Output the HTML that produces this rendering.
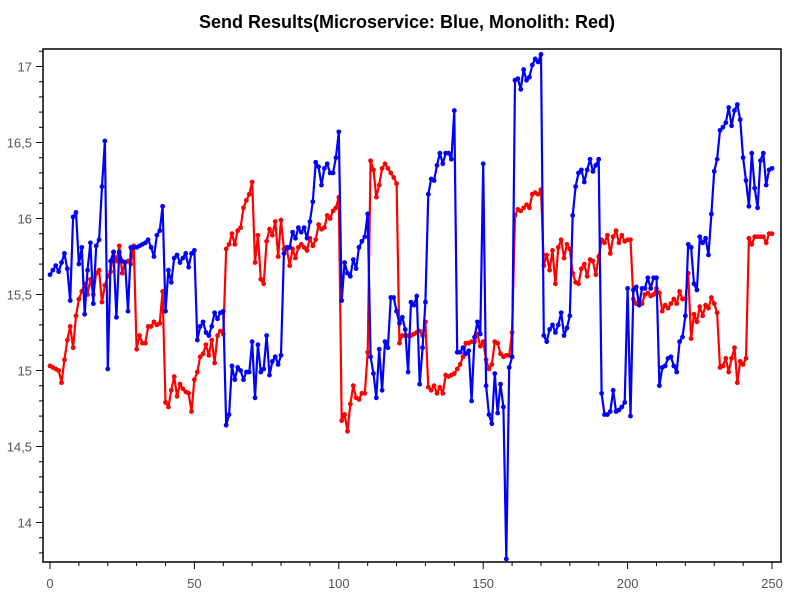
<!DOCTYPE html>
<html>
<head>
<meta charset="utf-8">
<style>
  html, body { margin: 0; padding: 0; background: #fff; }
  body { width: 800px; height: 600px; overflow: hidden; font-family: "Liberation Sans", "DejaVu Sans", sans-serif; }
  svg text { font-family: "Liberation Sans", "DejaVu Sans", sans-serif; }
</style>
</head>
<body>
<svg id="chart" width="800" height="600" viewBox="0 0 800 600" xmlns="http://www.w3.org/2000/svg">
  <text x="407" y="28" text-anchor="middle" font-size="18" font-weight="bold" fill="#000">Send Results(Microservice: Blue, Monolith: Red)</text>
  <rect x="43" y="49" width="738" height="513" fill="none" stroke="#000" stroke-width="1.5"/>
  <g id="axes"></g>
  <g id="series"></g>
</svg>
<script>
const yTicks = [14, 14.5, 15, 15.5, 16, 16.5, 17];
const yTickLabels = ["14", "14,5", "15", "15,5", "16", "16,5", "17"];
const xTicks = [0, 50, 100, 150, 200, 250];
const xTickLabels = ["0", "50", "100", "150", "200", "250"];

const microservice = [
15.63,15.66,15.69,15.65,15.71,15.77,15.67,15.46,16.01,16.04,
15.70,15.81,15.37,15.66,15.84,15.44,15.82,15.86,16.21,16.51,
15.01,15.72,15.78,15.35,15.78,15.72,15.71,15.39,15.81,15.81,
15.81,15.82,15.83,15.84,15.86,15.81,15.75,15.89,15.92,16.08,
15.39,15.66,15.58,15.74,15.76,15.71,15.74,15.77,15.68,15.77,15.79,
15.20,15.29,15.32,15.25,15.23,15.29,15.38,15.34,15.38,15.39,
14.64,14.71,15.03,14.94,15.02,15.00,14.94,14.99,14.99,15.19,
14.82,15.17,14.99,15.01,15.23,14.97,15.06,15.09,15.04,15.10,
15.77,15.81,15.81,15.91,15.87,15.94,15.91,15.94,15.87,15.98,
16.11,16.37,16.34,16.22,16.33,16.36,16.30,16.30,16.40,16.57,
15.46,15.71,15.64,15.62,15.73,15.67,15.81,15.85,15.88,16.03,
15.09,14.98,14.82,15.14,14.87,15.19,15.15,15.48,15.48,15.39,
15.31,15.35,15.27,14.99,15.45,15.43,15.49,14.91,15.15,15.45,
16.16,16.26,16.25,16.35,16.43,16.36,16.43,16.43,16.39,16.71,
15.12,15.12,15.15,15.11,15.13,14.80,15.22,15.32,15.24,16.36,
14.90,14.71,14.65,14.98,14.72,14.91,14.76,13.76,15.02,15.09,
16.91,16.92,16.85,16.98,16.91,16.93,17.01,17.05,17.03,17.08,
15.23,15.19,15.27,15.30,15.25,15.30,15.38,15.23,15.28,15.36,
16.02,16.21,16.30,16.32,16.24,16.32,16.39,16.31,16.35,16.39,
14.85,14.71,14.71,14.73,14.87,14.73,14.74,14.76,14.79,15.54,
14.70,15.53,15.55,15.43,15.54,15.54,15.61,15.54,15.61,15.61,
14.90,15.02,15.03,15.08,15.09,15.03,14.99,15.19,15.22,15.36,
15.83,15.81,15.57,15.53,15.88,15.84,15.87,15.76,16.03,16.31,
16.39,16.58,16.60,16.63,16.73,16.61,16.71,16.75,16.65,16.40,
16.25,16.08,16.43,16.20,16.07,16.38,16.43,16.22,16.32,16.33
];

const monolith = [
15.03,15.02,15.01,15.00,14.92,15.07,15.20,15.29,15.15,15.36,
15.47,15.52,15.57,15.50,15.60,15.50,15.64,15.66,15.45,15.56,
15.62,15.65,15.78,15.72,15.82,15.64,15.71,15.72,15.70,15.82,
15.14,15.23,15.18,15.18,15.29,15.29,15.32,15.30,15.31,15.52,
14.79,14.76,14.87,14.96,14.83,14.91,14.88,14.86,14.85,14.73,14.94,
14.99,15.09,15.11,15.17,15.10,15.20,15.05,15.23,15.26,15.24,
15.80,15.83,15.90,15.83,15.92,15.94,16.07,16.12,16.16,16.24,
15.71,15.89,15.60,15.57,15.85,15.93,15.89,15.98,15.75,15.99,
15.80,15.80,15.69,15.80,15.74,15.81,15.83,15.81,15.79,15.87,
15.82,15.86,15.96,15.93,15.94,16.02,16.00,16.05,16.07,16.14,
14.67,14.71,14.60,14.78,14.90,14.82,14.81,14.85,14.85,15.12,
16.38,16.32,16.14,16.22,16.33,16.36,16.33,16.30,16.27,16.23,
15.18,15.23,15.23,15.23,15.23,15.24,15.25,15.26,15.23,15.32,
14.89,14.87,14.90,14.85,14.89,14.85,14.97,14.96,14.97,14.98,
15.01,15.04,15.09,15.18,15.18,15.19,15.19,15.24,15.16,15.19,
15.07,15.01,15.04,15.19,15.18,15.11,15.09,15.10,15.10,15.25,
16.02,16.06,16.05,16.07,16.09,16.07,16.16,16.17,16.16,16.19,
15.69,15.76,15.66,15.79,15.57,15.81,15.86,15.74,15.83,15.80,
15.64,15.58,15.57,15.67,15.70,15.62,15.73,15.72,15.63,15.75,
15.86,15.84,15.89,15.77,15.88,15.92,15.84,15.89,15.85,15.86,15.86,
15.47,15.44,15.46,15.44,15.50,15.51,15.49,15.50,15.54,15.51,
15.39,15.43,15.41,15.44,15.47,15.44,15.52,15.47,15.47,15.64,
15.21,15.37,15.32,15.42,15.36,15.43,15.41,15.48,15.44,15.38,
15.02,15.03,15.08,14.99,15.08,15.15,14.92,15.06,15.04,15.08,
15.87,15.83,15.88,15.88,15.88,15.88,15.84,15.90,15.90
];

const NS = "http://www.w3.org/2000/svg";
function xScale(i) { return 50 + i * 2.888; }
function yScale(v) { return 522.5 - (v - 14) * 152; }

const axes = document.getElementById('axes');
function mk(tag, attrs, parent) {
  const el = document.createElementNS(NS, tag);
  for (const k in attrs) el.setAttribute(k, attrs[k]);
  parent.appendChild(el);
  return el;
}

for (let k = 0; k <= 34; k++) {
  const v = 13.7 + k * 0.1;
  const y = yScale(v);
  if (y < 49 || y > 562) continue;
  const major = Math.abs((v * 2) - Math.round(v * 2)) < 0.01;
  const t = mk('line', {x1: major ? 36 : 39, x2: 43, y1: y, y2: y, stroke: '#000', 'stroke-width': 1}, axes);
  
  
}
yTicks.forEach((v, i) => {
  const t = mk('text', {x: 32, y: yScale(v) + 5, 'text-anchor': 'end', 'font-size': 13, fill: '#555'}, axes);
  t.textContent = yTickLabels[i];
  
  
});
for (let i = 0; i <= 250; i += 10) {
  const major = i % 50 === 0;
  const x = xScale(i);
  const t = mk('line', {x1: x, x2: x, y1: 562, y2: major ? 569 : 566, stroke: '#000', 'stroke-width': 1}, axes);
  
  
}
xTicks.forEach((v, i) => {
  const t = mk('text', {x: xScale(v), y: 588, 'text-anchor': 'middle', 'font-size': 13, fill: '#555'}, axes);
  t.textContent = xTickLabels[i];
  
  
});

const seriesLayer = document.getElementById('series');
function drawSeries(data, color, name) {
  const g = mk('g', {}, seriesLayer);
  
  
  const pts = data.map((v, i) => xScale(i).toFixed(1) + ',' + yScale(v).toFixed(1)).join(' ');
  const line = mk('polyline', {points: pts, fill: 'none', stroke: color, 'stroke-width': 2.2, 'stroke-linejoin': 'round'}, g);
  
  
  data.forEach((v, i) => {
    const c = mk('circle', {cx: xScale(i), cy: yScale(v), r: 2.4, fill: color}, g);
    
    
  });
}
drawSeries(monolith, '#ff0000', 'monolith');
drawSeries(microservice, '#0000ff', 'microservice');
</script>
</body>
</html>
